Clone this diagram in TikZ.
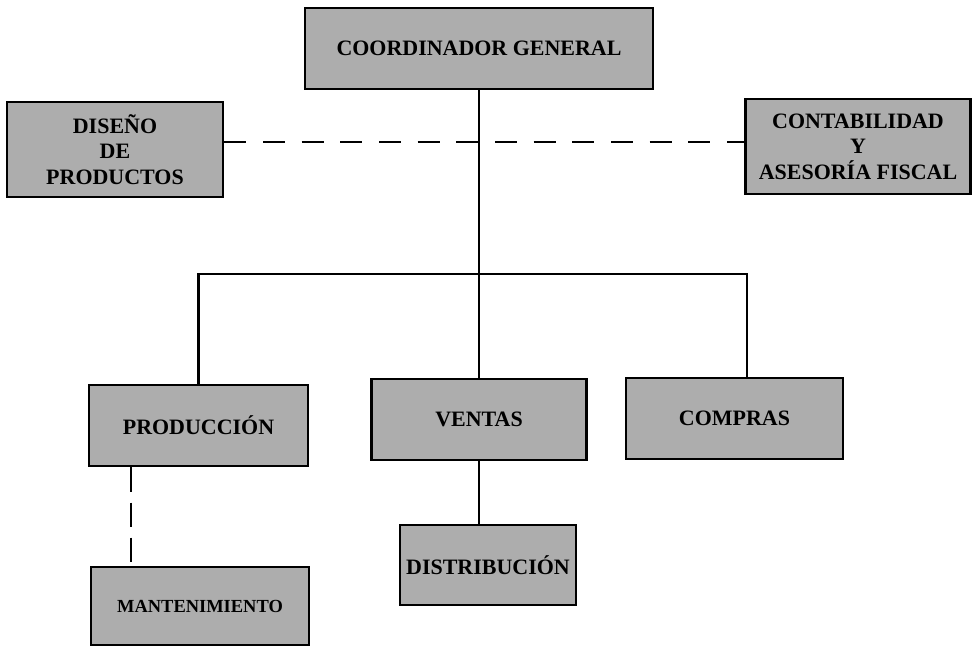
\documentclass[tikz,border=0pt]{standalone}
\usepackage{fontspec}
\setmainfont{Liberation Serif}
\usepackage{tikz}
\usetikzlibrary{positioning, calc}

\definecolor{boxgray}{gray}{0.68}
\tikzset{
  unit/.style={draw, line width=1.6pt, fill=boxgray, align=center, inner sep=0pt,
    font=\bfseries\fontsize{12.5}{14.5}\selectfont},
  link/.style={line width=1.3pt},
  staff/.style={line width=1.3pt, dash pattern=on 12.5pt off 9.5pt},
  staffv/.style={line width=1.3pt, dash pattern=on 14pt off 6pt}
}

\begin{document}
\begin{tikzpicture}

\useasboundingbox (0,0) rectangle (19.46,12.94);

% Units
\node[unit, minimum width=6.96cm, minimum height=1.62cm] (coord) at (9.58,11.97) {COORDINADOR GENERAL};
\node[unit, minimum width=4.32cm, minimum height=1.90cm] (diseno) at (2.30,9.95) {DISEÑO\\DE\\PRODUCTOS};
\node[unit, minimum width=4.50cm, minimum height=1.90cm] (conta) at (17.16,10.01) {CONTABILIDAD\\Y\\ASESORÍA FISCAL};
\node[unit, minimum width=4.38cm, minimum height=1.62cm] (prod) at (3.97,4.43) {PRODUCCIÓN};
\node[unit, minimum width=4.30cm, minimum height=1.62cm] (ventas) at (9.58,4.55) {VENTAS};
\node[unit, minimum width=4.34cm, minimum height=1.62cm] (compras) at (14.69,4.57) {COMPRAS};
\node[unit, minimum width=3.52cm, minimum height=1.60cm] (distrib) at (9.76,1.64) {DISTRIBUCIÓN};
\node[unit, minimum width=4.36cm, minimum height=1.56cm, font=\bfseries\fontsize{10.5}{12}\selectfont] (mant) at (4.00,0.82) {MANTENIMIENTO};

% Helper points
\coordinate (staffline) at (9.58,10.10);
\coordinate (busR) at (14.94,7.46);
\coordinate (mlink) at (2.62,2.5);

% Line of authority
\draw[link] (coord.south) -- (ventas.north);
\draw[link] (prod.north) |- (busR) -- (busR |- compras.north);
\draw[link] (ventas.south) -- (ventas.south |- distrib.north);

% Staff links
\draw[staff] (diseno.east |- staffline) -- (conta.west |- staffline);
\draw[staffv] (prod.south -| mlink) -- (mant.north -| mlink);

\end{tikzpicture}
\end{document}
